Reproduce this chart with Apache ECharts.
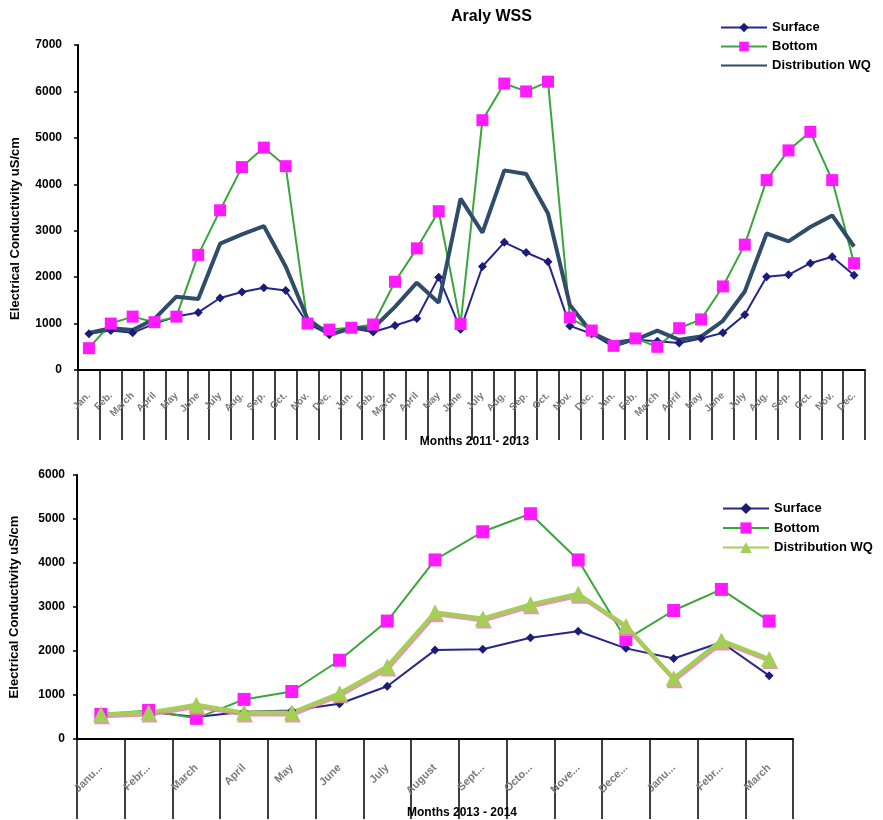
<!DOCTYPE html>
<html>
<head>
<meta charset="utf-8">
<script src="https://cdn.jsdelivr.net/npm/echarts@6/dist/echarts.min.js"></script>
<style>
html,body{margin:0;padding:0;background:#fff;}
#chart{width:883px;height:820px;}
</style>
</head>
<body>
<div id="chart"></div>
<script>
// ---- Data: top chart (2011 - 2013) ----
var topCategories = [
  "Jan.", "Feb.", "March", "April", "May", "June", "July", "Aug.", "Sep.", "Oct.", "Nov.", "Dec.",
  "Jan.", "Feb.", "March", "April", "May", "June", "July", "Aug.", "Sep.", "Oct.", "Nov.", "Dec.",
  "Jan.", "Feb.", "March", "April", "May", "June", "July", "Aug.", "Sep.", "Oct.", "Nov.", "Dec."
];
var topSurface = [780, 850, 800, 1000, 1150, 1240, 1550, 1680, 1770, 1710, 1000, 760,
                  900, 820, 960, 1110, 2000, 880, 2230, 2750, 2530, 2330, 950, 780,
                  500, 650, 620, 580, 680, 800, 1190, 2010, 2050, 2300, 2440, 2040];
var topBottom = [470, 1000, 1150, 1030, 1150, 2480, 3440, 4370, 4790, 4390, 1000, 870,
                 910, 980, 1900, 2620, 3420, 990, 5380, 6170, 6000, 6210, 1130, 850,
                 520, 680, 500, 900, 1090, 1800, 2700, 4090, 4730, 5130, 4090, 2300];
var topDistribution = [800, 900, 860, 1100, 1580, 1530, 2720, 2920, 3100, 2230, 1100, 760,
                       900, 900, 1360, 1880, 1450, 3690, 2960, 4300, 4220, 3370, 1400, 800,
                       580, 650, 850, 650, 720, 1060, 1690, 2940, 2770, 3080, 3330, 2660];
var topYTicks = ["0", "1000", "2000", "3000", "4000", "5000", "6000", "7000"];

// ---- Data: bottom chart (2013 - 2014) ----
var bottomCategories = ["Janu...", "Febr...", "March", "April", "May", "June", "July", "August",
                        "Sept...", "Octo...", "Nove...", "Dece...", "Janu...", "Febr...", "March"];
var bottomSurface = [560, 620, 500, 620, 650, 800, 1200, 2020, 2040, 2300, 2450, 2060, 1830, 2200, 1440];
var bottomBottom = [560, 650, 470, 900, 1080, 1790, 2680, 4070, 4710, 5120, 4070, 2260, 2920, 3400, 2680];
var bottomDistribution = [560, 600, 780, 600, 600, 1040, 1650, 2880, 2740, 3060, 3300, 2570, 1380, 2240, 1820];
var bottomYTicks = ["0", "1000", "2000", "3000", "4000", "5000", "6000"];

// series names (bottom chart names carry a trailing space so that each legend
// picks up the style of its own chart's series; the text looks identical)
var topNames = ["Surface", "Bottom", "Distribution WQ"];
var bottomNames = ["Surface ", "Bottom ", "Distribution WQ "];

var FONT = "Liberation Sans";
var navy = "#26268c";
var green = "#3aa63a";
var magenta = "#ff1aff";
var slate = "#2f4d6b";
var lightGreen = "#a3cf55";

function yAxisCfg(gridIndex, max, ticks, margin, pad) {
  return {
    type: "value", gridIndex: gridIndex, min: 0, max: max, interval: 1000,
    name: "Electrical Conductivity uS/cm", nameLocation: "middle", nameGap: 56,
    nameTextStyle: {fontFamily: FONT, fontWeight: "bold", fontSize: 13, color: "#000", padding: pad},
    axisLine: {show: true, lineStyle: {color: "#000", width: 2}},
    axisTick: {show: true, length: 4, lineStyle: {color: "#000", width: 1.5}},
    splitLine: {show: false},
    axisLabel: {margin: margin, fontFamily: FONT, fontWeight: "bold", fontSize: 12, color: "#000",
      formatter: function (v) { return ticks[Math.round(v / 1000)]; }}
  };
}
function xAxisCfg(gridIndex, cats, name, tickLen, fontSize, nameGap, namePad, labelMargin) {
  return {
    type: "category", gridIndex: gridIndex, data: cats, boundaryGap: true,
    name: name, nameLocation: "middle", nameGap: nameGap,
    nameTextStyle: {fontFamily: FONT, fontWeight: "bold", fontSize: 12, color: "#000", padding: namePad},
    axisLine: {show: true, lineStyle: {color: "#000", width: 2}},
    axisTick: {show: true, interval: 0, length: tickLen, lineStyle: {color: "#000", width: 1.5}},
    axisLabel: {interval: 0, rotate: 45, margin: labelMargin, fontFamily: FONT, fontWeight: "bold",
      fontSize: fontSize, color: "#7a7a7a"},
    splitLine: {show: false}
  };
}

var chart = echarts.init(document.getElementById("chart"));
chart.setOption({
  backgroundColor: "#fff",
  animation: false,
  title: {text: "Araly WSS", left: 446, top: 4,
    textStyle: {fontFamily: FONT, fontWeight: "bold", fontSize: 16, color: "#000"}},
  legend: [
    {orient: "vertical", left: 720, top: 21, padding: 0, itemWidth: 46, itemHeight: 12, itemGap: 6,
      textStyle: {fontFamily: FONT, fontWeight: "bold", fontSize: 13, color: "#000"},
      data: [
        {name: topNames[0]},
        {name: topNames[1]},
        {name: topNames[2], itemStyle: {opacity: 0}}
      ]},
    {orient: "vertical", left: 722, top: 502, padding: 0, itemWidth: 46, itemHeight: 14, itemGap: 6.5,
      textStyle: {fontFamily: FONT, fontWeight: "bold", fontSize: 13, color: "#000"},
      data: bottomNames}
  ],
  grid: [
    {left: 78, top: 45, width: 787, height: 325},
    {left: 73, top: 475, width: 720, height: 268}
  ],
  xAxis: [
    xAxisCfg(0, topCategories, "Months 2011 - 2013", 70, 10, 66, [0, 0, 0, 6], 24),
    xAxisCfg(1, bottomCategories, "Months 2013 - 2014", 80, 11, 68, [0, 0, 0, 54], 27)
  ],
  yAxis: [
    yAxisCfg(0, 7000, topYTicks, 16, [0, 42, 0, 0]),
    yAxisCfg(1, 6000, bottomYTicks, 12, [0, 0, 0, 0])
  ],
  series: [
    {name: topNames[0], type: "line", xAxisIndex: 0, yAxisIndex: 0, data: topSurface,
      symbol: "diamond", symbolSize: 9, lineStyle: {color: navy, width: 2},
      itemStyle: {color: "#1c1c78"}},
    {name: topNames[1], type: "line", xAxisIndex: 0, yAxisIndex: 0, data: topBottom,
      symbol: "rect", symbolSize: 12, lineStyle: {color: green, width: 2},
      itemStyle: {color: magenta}},
    {name: topNames[2], type: "line", xAxisIndex: 0, yAxisIndex: 0, data: topDistribution,
      symbol: "none", lineStyle: {color: slate, width: 4}, itemStyle: {color: slate}},

    {name: bottomNames[0], type: "line", xAxisIndex: 1, yAxisIndex: 1, data: bottomSurface,
      symbol: "diamond", symbolSize: 9, lineStyle: {color: navy, width: 2},
      itemStyle: {color: "#1c1c78"}},
    {name: bottomNames[1], type: "line", xAxisIndex: 1, yAxisIndex: 1, data: bottomBottom,
      symbol: "rect", symbolSize: 13, lineStyle: {color: green, width: 2},
      itemStyle: {color: magenta}},
    {name: bottomNames[2], type: "line", xAxisIndex: 1, yAxisIndex: 1, data: bottomDistribution,
      symbol: "triangle", symbolSize: 16,
      lineStyle: {color: lightGreen, width: 4, shadowColor: "rgba(225,140,170,0.9)", shadowOffsetX: 1, shadowOffsetY: 2, shadowBlur: 0},
      itemStyle: {color: lightGreen, shadowColor: "rgba(225,140,170,0.9)", shadowOffsetX: 1, shadowOffsetY: 2, shadowBlur: 0}}
  ]
});
</script>
</body>
</html>
